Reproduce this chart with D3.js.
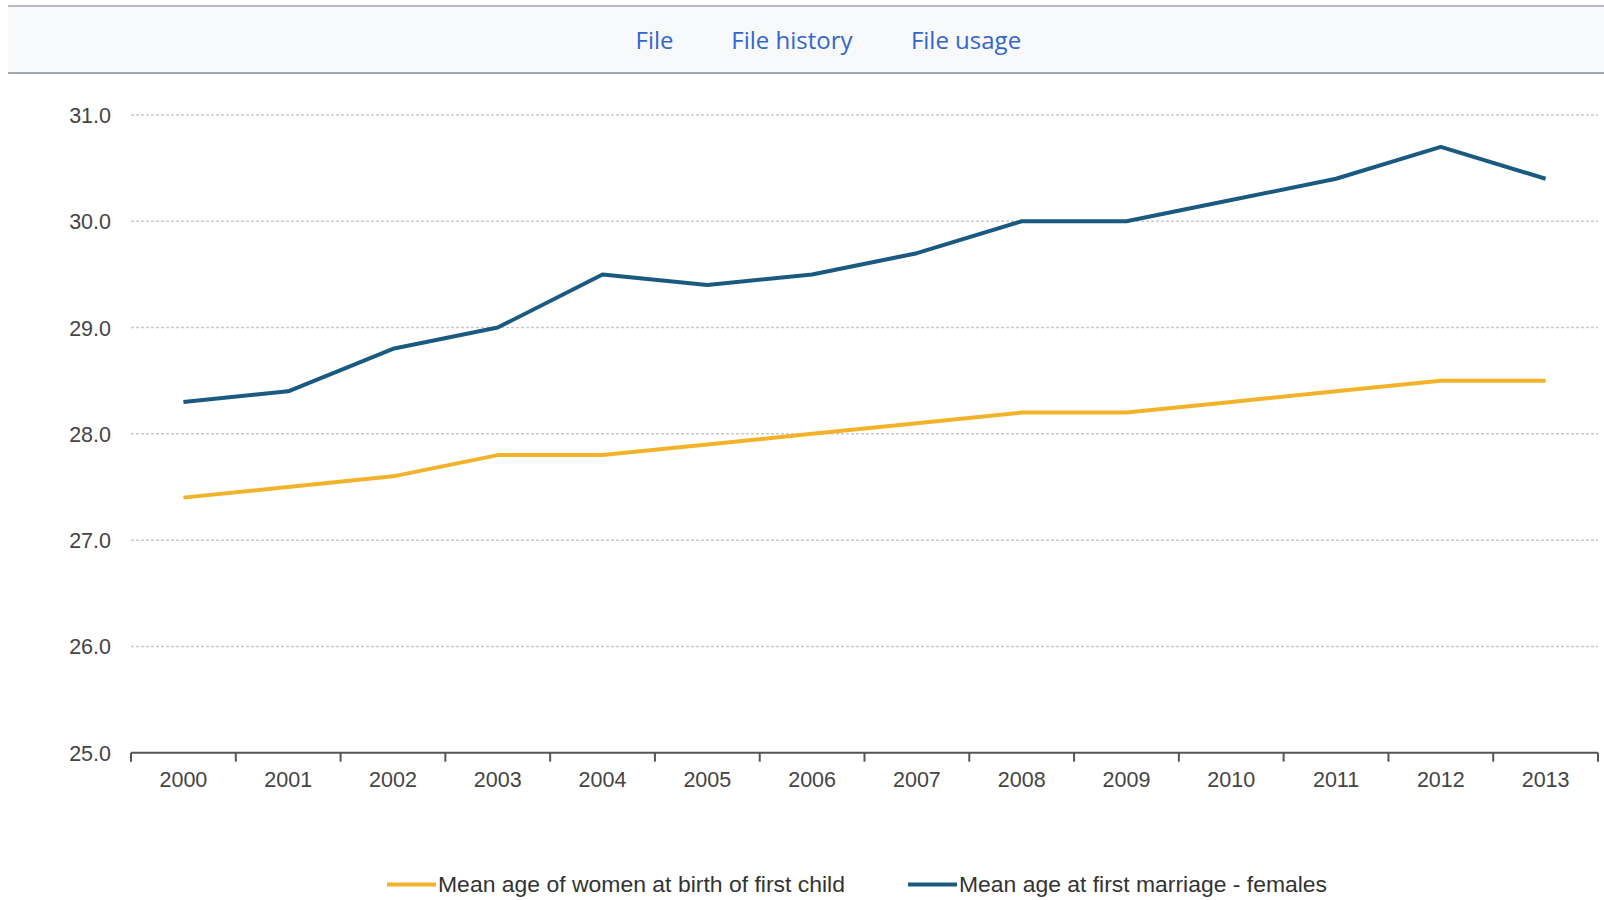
<!DOCTYPE html>
<html>
<head>
<meta charset="utf-8">
<script src="https://cdn.jsdelivr.net/npm/d3@7"></script>
<style>
  html, body { margin: 0; padding: 0; background: #fff; }
  svg { display: block; }
</style>
</head>
<body>
<svg id="chart" width="1604" height="900"></svg>
<script>
const years = ["2000","2001","2002","2003","2004","2005","2006","2007","2008","2009","2010","2011","2012","2013"];
const birthFirstChild = [27.4, 27.5, 27.6, 27.8, 27.8, 27.9, 28.0, 28.1, 28.2, 28.2, 28.3, 28.4, 28.5, 28.5];
const firstMarriage = [28.3, 28.4, 28.8, 29.0, 29.5, 29.4, 29.5, 29.7, 30.0, 30.0, 30.2, 30.4, 30.7, 30.4];
const yTicks = [25, 26, 27, 28, 29, 30, 31];
const seriesNames = ["Mean age of women at birth of first child", "Mean age at first marriage - females"];
const tabs = ["File", "File history", "File usage"];

const svg = d3.select("#chart");

// Top tab band
svg.append("rect").attr("x", 8).attr("y", 6).attr("width", 1596).attr("height", 67).attr("fill", "#f8f9fa");
svg.append("line").attr("x1", 8).attr("x2", 1604).attr("y1", 6).attr("y2", 6).attr("stroke", "#b8bcc2").attr("stroke-width", 2);
svg.append("line").attr("x1", 8).attr("x2", 1604).attr("y1", 73).attr("y2", 73).attr("stroke", "#a2a9b1").attr("stroke-width", 2);
const tabX = [654.5, 792, 966];
svg.selectAll("text.tab").data(tabs).enter().append("text")
  .attr("class", "tab")
  .attr("x", (d, i) => tabX[i]).attr("y", 49)
  .attr("text-anchor", "middle")
  .attr("font-family", "'Open Sans', sans-serif")
  .attr("font-size", 24)
  .attr("fill", "#3366cc")
  .text(d => d);

// Scales
const x = d3.scaleBand().domain(years).range([131, 1598]).padding(0);
const y = d3.scaleLinear().domain([25, 31]).range([752.7, 115]);

// Gridlines
svg.append("g").selectAll("line").data(yTicks.filter(t => t > 25)).enter().append("line")
  .attr("x1", 131).attr("x2", 1598)
  .attr("y1", d => y(d)).attr("y2", d => y(d))
  .attr("stroke", "#c9c9c9").attr("stroke-width", 1.5).attr("stroke-dasharray", "3,2");

// Y axis labels
const yAxis = d3.axisLeft(y).tickValues(yTicks).tickFormat(d3.format(".1f")).tickSize(0).tickPadding(0);
const gy = svg.append("g").attr("transform", "translate(111,0)").call(yAxis);
gy.select(".domain").remove();
gy.selectAll("text")
  .attr("font-family", "'Liberation Sans', Arial, sans-serif")
  .attr("font-size", 21.5).attr("fill", "#444").attr("dy", "0.35em");

// X axis
const xAxis = d3.axisBottom(x).tickSize(0).tickPadding(0);
const gx = svg.append("g").attr("transform", `translate(0,${y(25)})`).call(xAxis);
gx.select(".domain").attr("stroke", "#555").attr("stroke-width", 2).attr("d", `M131,0H1598`);
gx.selectAll("text")
  .attr("y", 27).attr("dy", "0.35em")
  .attr("font-family", "'Liberation Sans', Arial, sans-serif")
  .attr("font-size", 21.5).attr("fill", "#444");
// boundary ticks
const bounds = years.map(d => x(d)).concat([x(years[years.length - 1]) + x.bandwidth()]);
svg.append("g").selectAll("line").data(bounds).enter().append("line")
  .attr("x1", d => d).attr("x2", d => d)
  .attr("y1", y(25)).attr("y2", y(25) + 9)
  .attr("stroke", "#555").attr("stroke-width", 2);

// Lines
const line = d3.line().x((d, i) => x(years[i]) + x.bandwidth() / 2).y(d => y(d));
const colors = ["#f2b32b", "#1b5a80"];
[birthFirstChild, firstMarriage].forEach((s, k) => {
  svg.append("path").datum(s).attr("d", line)
    .attr("fill", "none").attr("stroke", colors[k]).attr("stroke-width", 4)
    .attr("stroke-linejoin", "round").attr("stroke-linecap", "butt");
});

// Legend
const legendX = [387, 908];
const legendTextLen = [407, 368];
seriesNames.forEach((name, k) => {
  svg.append("line").attr("x1", legendX[k]).attr("x2", legendX[k] + 49)
    .attr("y1", 884.5).attr("y2", 884.5).attr("stroke", colors[k]).attr("stroke-width", 4);
  svg.append("text").attr("x", legendX[k] + 51).attr("y", 892)
    .attr("font-family", "'Liberation Sans', Arial, sans-serif")
    .attr("font-size", 22).attr("fill", "#333")
    .attr("textLength", legendTextLen[k]).attr("lengthAdjust", "spacingAndGlyphs")
    .text(name);
});
</script>
</body>
</html>
